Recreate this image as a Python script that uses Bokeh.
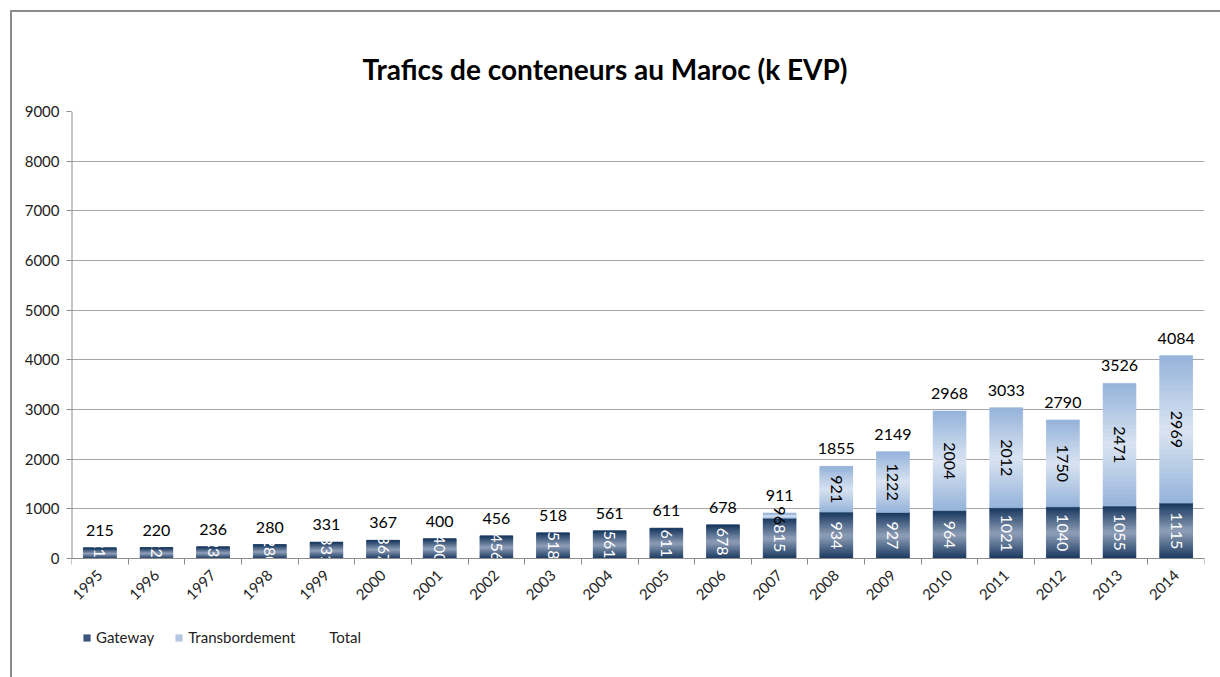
import numpy as np
from bokeh.plotting import figure
from bokeh.layouts import column
from bokeh.models import (ColumnDataSource, FixedTicker, Legend, LegendItem, Range1d)
from bokeh.embed import file_html
from bokeh.resources import INLINE
from bokeh.core.properties import value

# ---------------- data ----------------
years = ["1995", "1996", "1997", "1998", "1999", "2000", "2001", "2002", "2003", "2004",
         "2005", "2006", "2007", "2008", "2009", "2010", "2011", "2012", "2013", "2014"]
gateway = [215, 220, 236, 280, 331, 367, 400, 456, 518, 561,
           611, 678, 815, 934, 927, 964, 1021, 1040, 1055, 1115]
transbordement = [0, 0, 0, 0, 0, 0, 0, 0, 0, 0,
                  0, 0, 96, 921, 1222, 2004, 2012, 1750, 2471, 2969]
total = [215, 220, 236, 280, 331, 367, 400, 456, 518, 561,
         611, 678, 911, 1855, 2149, 2968, 3033, 2790, 3526, 4084]
y_ticks = [0, 1000, 2000, 3000, 4000, 5000, 6000, 7000, 8000, 9000]

FONT = "Lato"
xs = list(range(len(years)))
BAR_W = 0.58

# frame: 447 px for 0..9000, plus 119 px below zero for axis labels and legend
Y_MAX = 9000
Y_MIN = -Y_MAX * 119 / 447

p = figure(width=1208, height=665, output_backend="svg", toolbar_location=None,
           x_range=Range1d(-0.5, len(years) - 0.5), y_range=Range1d(Y_MIN, Y_MAX),
           min_border_left=59, min_border_right=16, min_border_top=99,
           min_border_bottom=0)
p.outline_line_color = None
p.background_fill_color = "white"
p.border_fill_color = "white"

# title
p.title.text = "Trafics de conteneurs au Maroc (k EVP)"
p.title.text_font = FONT
p.title.text_font_size = "28px"
p.title.text_font_style = "bold"
p.title.align = "left"
p.title.offset = 291
p.title.text_color = "black"
p.title.standoff = 52

# base bars (solid) from data
src = ColumnDataSource(dict(x=xs, Gateway=gateway, Transbordement=transbordement, total=total))
rs = p.vbar_stack(["Gateway", "Transbordement"], x="x", width=BAR_W, source=src,
                  color=["#3d5680", "#b3c7e4"], line_color=None)

# gradient overlay bands computed from the data
def mix(c1, c2, t):
    return "#%02x%02x%02x" % tuple(int(round(a + (b - a) * t)) for a, b in zip(c1, c2))

N = 30
g_dark, g_light = (23, 55, 94), (146, 162, 186)
t_end, t_mid = (149, 179, 218), (218, 228, 242)
bx, bb, bt, bc = [], [], [], []
for i in xs:
    segs = [(0, gateway[i], g_dark, g_light),
            (gateway[i], gateway[i] + transbordement[i], t_end, t_mid)]
    for lo, hi, ce, cm in segs:
        if hi <= lo:
            continue
        for k in range(N):
            s = (k + 0.5) / N
            f = 1 - abs(2 * s - 1)
            bx.append(i)
            bb.append(lo + (hi - lo) * k / N)
            bt.append(lo + (hi - lo) * (k + 1) / N)
            bc.append(mix(ce, cm, f))
band_src = ColumnDataSource(dict(x=bx, bottom=bb, top=bt, c=bc))
p.vbar(x="x", bottom="bottom", top="top", width=BAR_W, source=band_src,
       fill_color="c", line_color="c", line_width=0.6)

# invisible total series (legend entry only)
r_total = p.line(x="x", y="total", source=src, line_alpha=0)

# labels
g_src = ColumnDataSource(dict(x=xs, y=[g / 2 for g in gateway], t=[str(g) for g in gateway]))
p.text(x="x", y="y", text="t", source=g_src, angle=-np.pi / 2, text_align="center",
       text_baseline="middle", text_color="white", text_font=value(FONT),
       text_font_size="16px")
ti = [i for i in xs if transbordement[i] > 0]
t_src = ColumnDataSource(dict(x=ti, y=[gateway[i] + transbordement[i] / 2 for i in ti],
                              t=[str(transbordement[i]) for i in ti]))
p.text(x="x", y="y", text="t", source=t_src, angle=-np.pi / 2, text_align="center",
       text_baseline="middle", text_color="black", text_font=value(FONT),
       text_font_size="16px")
tot_src = ColumnDataSource(dict(x=xs, y=total, t=[str(v) for v in total]))
p.text(x="x", y="y", text="t", source=tot_src, text_align="center",
       text_baseline="bottom", y_offset=-12, text_color="black", text_font=value(FONT),
       text_font_size="16px")

# axes
p.xgrid.grid_line_color = None
p.ygrid.grid_line_color = "#a6a6a6"
p.ygrid.grid_line_width = 1
p.yaxis.ticker = FixedTicker(ticks=y_ticks)
p.yaxis.axis_line_color = None
p.yaxis.major_tick_line_color = "#8c8c8c"
p.yaxis.major_tick_out = 5
p.yaxis.major_tick_in = 0
p.yaxis.minor_tick_line_color = None
p.yaxis.major_label_standoff = 7
p.yaxis.major_label_text_font = FONT
p.yaxis.major_label_text_font_size = "15px"
p.yaxis.major_label_text_color = "#222222"
# value-axis line, from 0 to the top of the scale only
p.segment(x0=[-0.5], y0=[0], x1=[-0.5], y1=[Y_MAX], line_color="#8c8c8c", line_width=2)

p.xaxis.fixed_location = 0
p.xaxis.ticker = FixedTicker(ticks=xs, minor_ticks=[i - 0.5 for i in range(len(years) + 1)])
p.xaxis.major_label_overrides = {i: years[i] for i in xs}
p.xaxis.major_label_orientation = np.pi / 4
p.xaxis.axis_line_color = "#8c8c8c"
p.xaxis.major_tick_line_color = None
p.xaxis.major_tick_out = 0
p.xaxis.major_tick_in = 0
p.xaxis.minor_tick_line_color = "#8c8c8c"
p.xaxis.minor_tick_out = 6
p.xaxis.minor_tick_in = 0
p.xaxis.major_label_standoff = 8
p.xaxis.major_label_text_font = FONT
p.xaxis.major_label_text_font_size = "15px"
p.xaxis.major_label_text_color = "#222222"

# legend
legend = Legend(items=[LegendItem(label="Gateway", renderers=[rs[0]]),
                       LegendItem(label="Transbordement", renderers=[rs[1]]),
                       LegendItem(label="Total", renderers=[r_total])],
                orientation="horizontal", location=(11, 31), padding=4,
                spacing=20, glyph_width=9, glyph_height=9, label_standoff=5,
                border_line_color=None, background_fill_alpha=0,
                label_text_font=FONT, label_text_font_size="15px", label_text_color="#222222")
p.add_layout(legend, "center")

layout = column(p, styles={"margin-left": "10px", "margin-top": "10px",
                           "border-left": "2px solid #8c8c8c",
                           "border-top": "2px solid #8c8c8c"})

open("out.html", "w").write(file_html(layout, INLINE))
